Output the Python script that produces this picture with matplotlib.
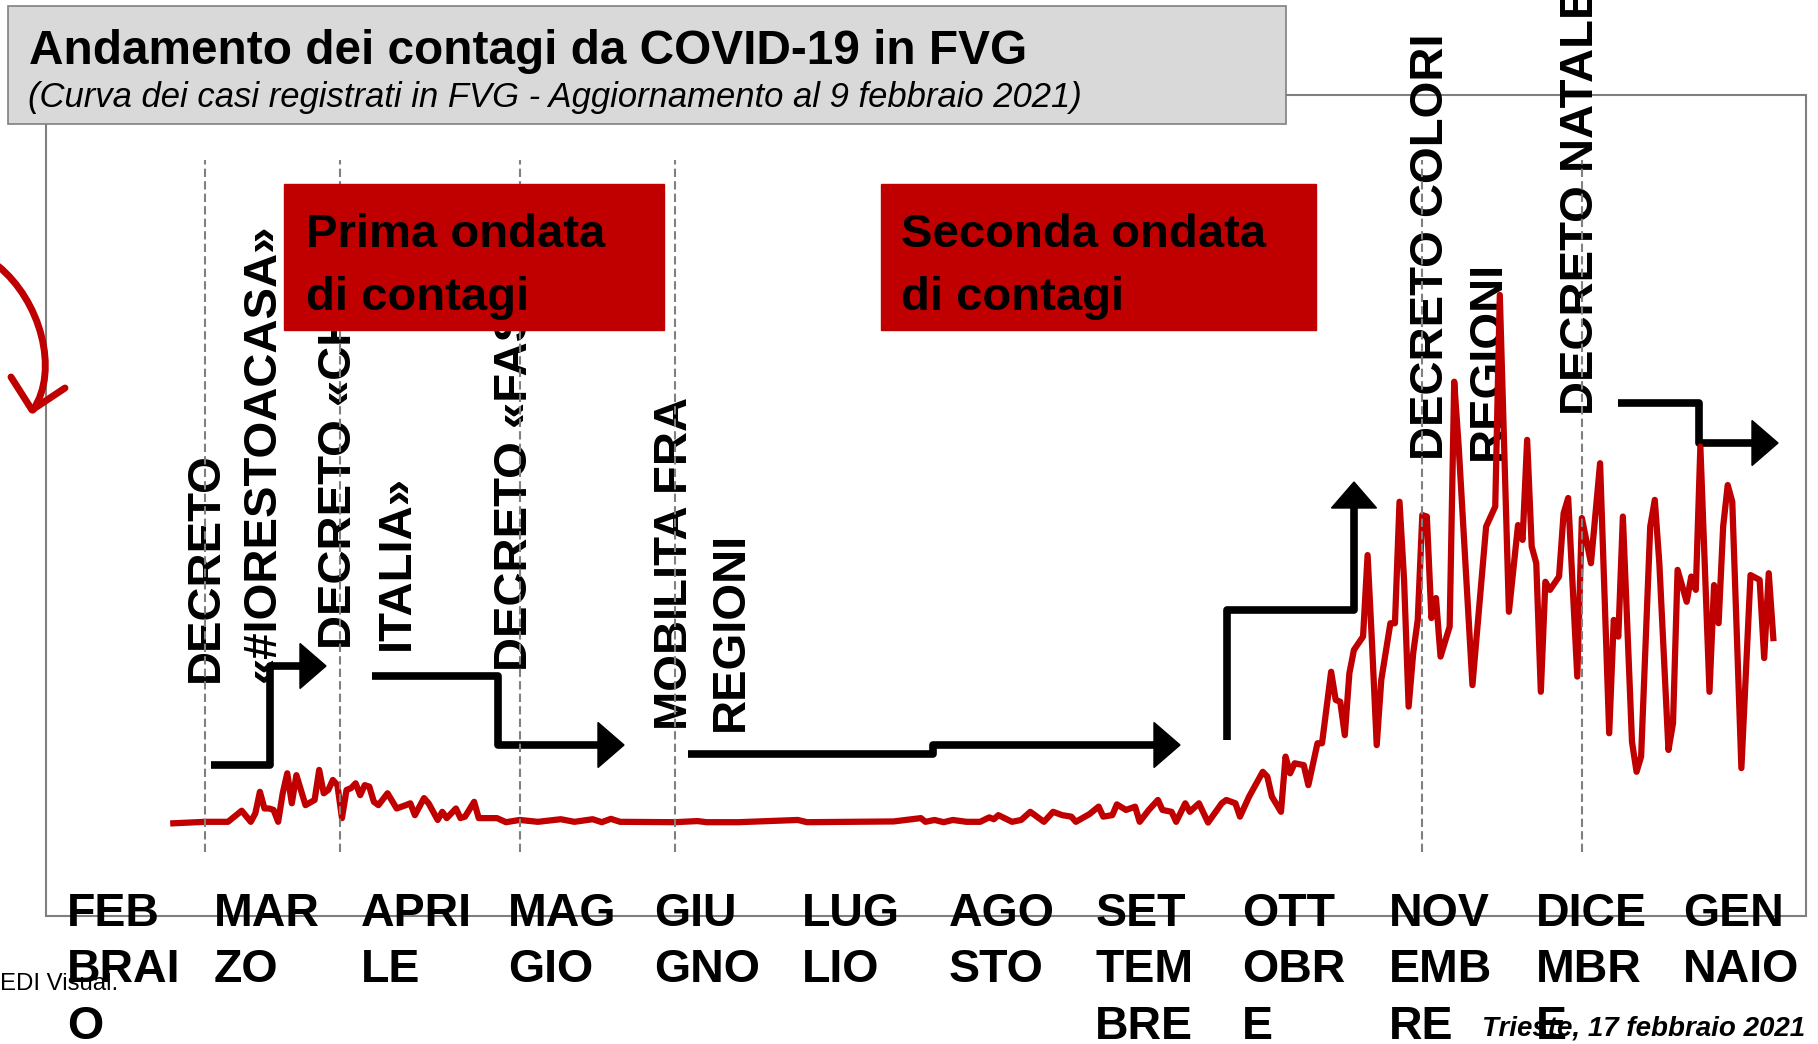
import numpy as np
import matplotlib
matplotlib.use("Agg")
import matplotlib.pyplot as plt
from matplotlib.patches import Rectangle, Polygon, PathPatch
from matplotlib.path import Path

plt.rcParams['font.family'] = ['Liberation Sans', 'DejaVu Sans']

# giorni dal 24 febbraio 2020, casi giornalieri
giorni = [0, 7, 12, 13, 15, 17, 18, 19, 20, 21, 22, 23, 24, 25, 26, 27, 28, 29, 31, 32,
          33, 34, 35, 36, 37, 38, 39, 40, 41, 42, 43, 44, 45, 47, 49, 51, 52, 53, 55, 56,
          58, 59, 60, 62, 63, 64, 66, 67, 71, 73, 76, 80, 85, 88, 92, 94, 96, 98, 110, 115,
          117, 124, 137, 139, 158, 164, 165, 167, 169, 171, 174, 177, 179, 180, 181, 184, 186, 188, 189, 191,
          193, 195, 197, 198, 201, 203, 204, 206, 207, 209, 211, 212, 214, 216, 217, 219, 220, 222, 223, 225,
          227, 230, 231, 233, 234, 236, 239, 240, 241, 243, 244, 245, 246, 248, 249, 251, 252, 254, 255, 256,
          257, 258, 259, 261, 262, 263, 264, 265, 267, 268, 269, 270, 271, 272, 273, 274, 275, 276, 277, 278,
          280, 281, 282, 285, 288, 290, 291, 293, 295, 296, 297, 298, 299, 300, 301, 302, 304, 305, 306, 308,
          309, 311, 313, 315, 316, 317, 318, 320, 321, 322, 324, 325, 326, 328, 329, 330, 332, 333, 334, 335,
          337, 338, 339, 340, 341, 342, 344, 346, 348, 349, 350, 351]
casi = [0, 4, 4, 14, 34, 4, 27, 85, 40, 40, 36, 4, 81, 135, 54, 130, 90, 49, 63, 144,
        81, 90, 117, 103, 14, 90, 95, 108, 76, 103, 99, 58, 49, 81, 40, 49, 54, 22, 68, 54,
        9, 31, 14, 40, 14, 18, 58, 14, 14, 3, 9, 4, 11, 4, 11, 3, 12, 4, 3, 6,
        3, 3, 9, 3, 5, 14, 4, 9, 3, 9, 4, 4, 16, 11, 22, 4, 9, 31, 22, 4,
        31, 22, 18, 4, 25, 45, 18, 22, 51, 36, 45, 4, 36, 63, 36, 31, 4, 54, 31, 54,
        2, 54, 63, 54, 18, 72, 139, 126, 72, 31, 180, 135, 162, 157, 103, 216, 216, 409, 333, 328,
        238, 405, 468, 504, 724, 477, 211, 387, 540, 540, 868, 657, 315, 459, 549, 832, 828, 554, 608, 450,
        531, 1192, 1013, 373, 801, 855, 1426, 571, 805, 765, 1035, 747, 702, 355, 652, 630, 666, 837, 878, 396,
        824, 702, 972, 243, 549, 504, 828, 220, 139, 180, 801, 873, 702, 198, 270, 684, 598, 666, 630, 1017,
        355, 643, 540, 801, 913, 868, 149, 670, 657, 446, 675, 500]

eventi_giorno = [7, 36.5, 76, 110, 274, 309]

mesi = ["FEB\nBRAI\nO", "MAR\nZO", "APRI\nLE", "MAG\nGIO", "GIU\nGNO", "LUG\nLIO",
        "AGO\nSTO", "SET\nTEM\nBRE", "OTT\nOBR\nE", "NOV\nEMB\nRE", "DICE\nMBR\nE", "GEN\nNAIO"]

# (testo, x linea di base, inizio y) per le etichette verticali
decreti = [("DECRETO", 218, 682), ("«#IORESTOACASA»", 275, 682),
           ("DECRETO «CHIUDI", 351, 649), ("ITALIA»", 409, 650),
           ("DECRETO «FASE 2»", 527, 671),
           ("MOBILITA FRA", 687, 730), ("REGIONI", 743, 731),
           ("DECRETO COLORI", 1443, 460), ("REGIONI", 1500, 460),
           ("DECRETO NATALE", 1593, 415)]

titolo = "Andamento dei contagi da COVID-19 in FVG"
sottotitolo = "(Curva dei casi registrati in FVG - Aggiornamento al 9 febbraio 2021)"
ondate = ["Prima ondata\ndi contagi", "Seconda ondata\ndi contagi"]

RED = '#c00000'
W, H = 1818, 1044
fig = plt.figure(figsize=(W / 100, H / 100), dpi=100)


def layer(z):
    a = fig.add_axes([0, 0, 1, 1], zorder=z)
    a.set_xlim(0, W)
    a.set_ylim(H, 0)
    a.axis('off')
    return a


def freccia(a, pts, lw=5.5, head_len=26, head_half=22.5):
    pts = np.array(pts, float)
    tip = pts[-1]
    d = (tip - pts[-2]) / np.linalg.norm(tip - pts[-2])
    n = np.array([-d[1], d[0]])
    base = tip - head_len * d
    line = np.vstack([pts[:-1], base + 2 * d])
    a.plot(line[:, 0], line[:, 1], color='black', lw=lw,
           solid_joinstyle='round', solid_capstyle='butt')
    a.add_patch(Polygon([tip, base + head_half * n, base - head_half * n],
                        closed=True, color='black'))


# --- background layer: frame, labels, arrows
bg = layer(0)
bg.add_patch(Rectangle((46, 95), 1760, 821, fill=False, edgecolor='#7f7f7f', lw=1.5))

for s, x, y in decreti:
    bg.text(x, y, s, rotation=90, rotation_mode='anchor', ha='left', va='baseline',
            fontsize=34, fontweight='bold', color='black')

for i, lab in enumerate(mesi):
    for k, riga in enumerate(lab.split("\n")):
        bg.text(67 + i * 146.9, 926 + k * 56.5, riga, ha='left', va='baseline',
                fontsize=33.5, fontweight='bold', color='black')

freccia(bg, [(211, 765), (270, 765), (270, 666), (326, 666)])
freccia(bg, [(372, 676), (498, 676), (498, 745), (624, 745)])
freccia(bg, [(688, 754), (933, 754), (933, 745), (1180, 745)])
freccia(bg, [(1227, 740), (1227, 610), (1354, 610), (1354, 482)])
freccia(bg, [(1618, 403), (1699, 403), (1699, 443), (1778, 443)])

# curved red arrow on the left edge
curva = Path([(-2, 266), (40, 300), (60, 370), (33, 410)],
             [Path.MOVETO, Path.CURVE4, Path.CURVE4, Path.CURVE4])
bg.add_patch(PathPatch(curva, fill=False, edgecolor=RED, lw=5, capstyle='round'))
bg.plot([11, 32, 65], [377, 410, 388], color=RED, lw=5,
        solid_joinstyle='round', solid_capstyle='round')

bg.text(118, 990, "EDI Visual.", ha='right', va='baseline', fontsize=17.3, color='black')
bg.text(1805, 1035, "Trieste, 17 febbraio 2021", ha='right', va='baseline',
        fontsize=20, fontweight='bold', fontstyle='italic', color='black')

# --- data layer: curve and event lines
x0, x1, yb, yt = 173.3, 1773.3, 823.3, 295
ax = fig.add_axes([x0 / W, (H - yb) / H, (x1 - x0) / W, (yb - yt) / H], zorder=1)
ax.set_xlim(0, 351)
ax.set_ylim(0, 1426)
ax.axis('off')
ax.plot(giorni, casi, color=RED, lw=4.5, solid_joinstyle='round', clip_on=False)
ax.vlines(eventi_giorno, -0.054, 1.256, transform=ax.get_xaxis_transform(),
          colors='#808080', lw=1.5, linestyles=(0, (4, 2)), clip_on=False)

# --- top layer: wave boxes and title
top = layer(2)
for (bx, bw, tx), s in zip([(284, 380, 306), (881, 435, 901)], ondate):
    top.add_patch(Rectangle((bx, 184), bw, 146, color=RED))
    for k, riga in enumerate(s.split("\n")):
        top.text(tx, 247 + k * 63, riga, ha='left', va='baseline',
                 fontsize=34, fontweight='bold', color='black')

top.add_patch(Rectangle((8, 6), 1278, 118, facecolor='#d9d9d9', edgecolor='#808080', lw=1.2))
top.text(29, 64.5, titolo, ha='left', va='baseline', fontsize=34.4, fontweight='bold', color='black')
top.text(28, 107, sottotitolo, ha='left', va='baseline', fontsize=24.9,
         fontstyle='italic', color='black')

fig.savefig('out.png', dpi=100)
